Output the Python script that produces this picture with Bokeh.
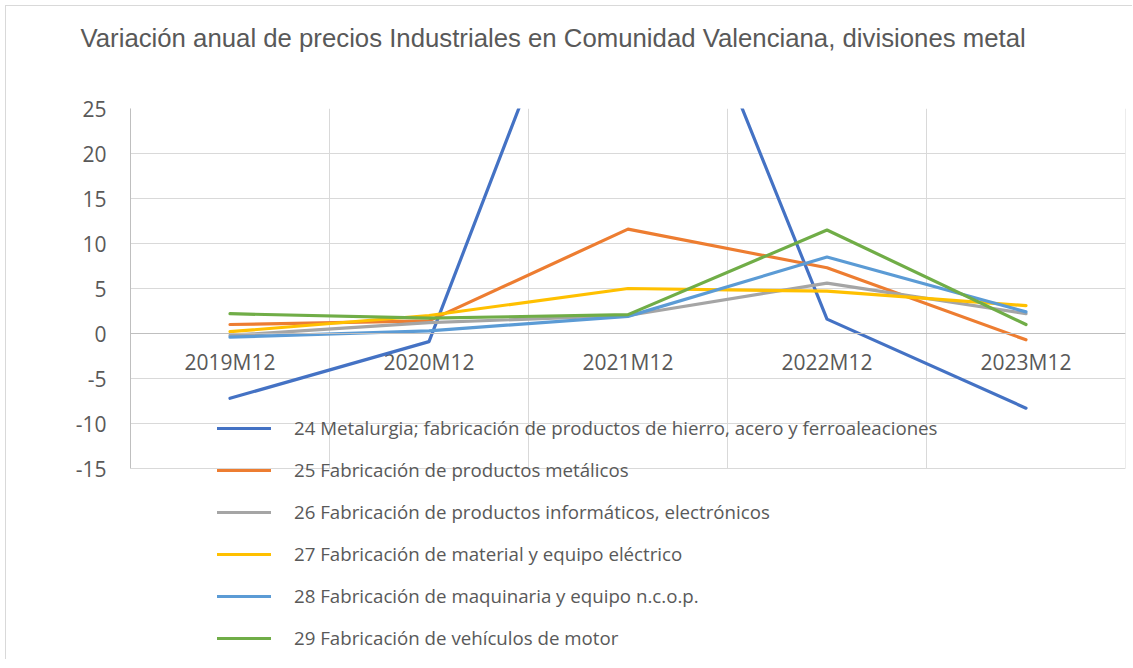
from bokeh.plotting import figure
from bokeh.models import FixedTicker, Legend, LegendItem, Range1d, Span, Title
from bokeh.core.properties import value
from bokeh.embed import file_html
from bokeh.resources import INLINE

title_text = "Variación anual de precios Industriales en Comunidad Valenciana, divisiones metal"
categories = ["2019M12", "2020M12", "2021M12", "2022M12", "2023M12"]

series_names = [
    "24 Metalurgia; fabricación de productos de hierro, acero y ferroaleaciones",
    "25 Fabricación de productos metálicos",
    "26 Fabricación de productos informáticos, electrónicos",
    "27 Fabricación de material y equipo eléctrico",
    "28 Fabricación de maquinaria y equipo n.c.o.p.",
    "29 Fabricación de vehículos de motor",
]
s24 = [-7.2, -0.9, 56.5, 1.6, -8.3]
s25 = [1.0, 1.4, 11.6, 7.3, -0.7]
s26 = [-0.2, 1.2, 2.0, 5.6, 2.2]
s27 = [0.2, 2.0, 5.0, 4.7, 3.1]
s28 = [-0.4, 0.3, 1.9, 8.5, 2.4]
s29 = [2.2, 1.7, 2.1, 11.5, 1.0]
series_values = [s24, s25, s26, s27, s28, s29]
colors = ["#4472C4", "#ED7D31", "#A5A5A5", "#FFC000", "#5B9BD5", "#70AD47"]
y_ticks = [-15, -10, -5, 0, 5, 10, 15, 20, 25]

xs = [i + 0.5 for i in range(len(categories))]
bounds_x = list(range(len(categories) + 1))

# frame: 9 px per unit, extra room below -15 for the legend
p = figure(width=1127, height=654, output_backend="svg", toolbar_location=None,
           x_range=Range1d(0, len(categories)), y_range=Range1d(-15 - 192 / 9, 25),
           min_border_left=124, min_border_right=8, min_border_top=102,
           min_border_bottom=0)
p.styles = {"margin-left": "5px", "margin-top": "5px",
            "border-left": "1px solid #D9D9D9", "border-top": "1px solid #D9D9D9"}
p.outline_line_color = None
p.background_fill_color = "white"
p.border_fill_color = "white"

p.title.text = title_text
p.title.text_font = "Liberation Sans"
p.title.text_font_size = "25.75px"
p.title.text_font_style = "normal"
p.title.text_color = "#595959"
p.title.align = "left"
p.title.vertical_align = "bottom"
p.title.offset = -50
p.title.standoff = 0

# blank spacer between title and plot area
spacer = Title(text=" ", text_font_size="10px", standoff=44, text_color="white")
p.add_layout(spacer, "above")

# horizontal grid
p.ygrid.ticker = FixedTicker(ticks=y_ticks)
p.ygrid.grid_line_color = "#D9D9D9"
p.ygrid.grid_line_width = 1
# vertical grid lines at category boundaries, limited to the value range
p.xgrid.visible = False
p.segment(x0=bounds_x, y0=[y_ticks[0]] * len(bounds_x), x1=bounds_x,
          y1=[y_ticks[-1]] * len(bounds_x), line_color="#D9D9D9", line_width=1)

# x axis at zero (category labels next to it)
p.xaxis.visible = False
p.add_layout(Span(location=0, dimension="width", line_color="#BFBFBF", line_width=1))
p.text(x=xs, y=[0] * len(xs), text=categories, text_font=value("Open Sans"),
       text_font_size="21px", text_color="#595959", text_align="center",
       text_baseline="middle", y_offset=28)

ya = p.yaxis[0]
ya.ticker = FixedTicker(ticks=y_ticks)
ya.bounds = (y_ticks[0], y_ticks[-1])
ya.major_label_overrides = {t: str(t) for t in y_ticks}
ya.axis_line_color = "#BFBFBF"
ya.major_tick_line_color = None
ya.minor_tick_line_color = None
ya.major_tick_out = 0
ya.major_tick_in = 0
ya.major_label_standoff = 24
ya.major_label_text_font = "Open Sans"
ya.major_label_text_font_size = "21px"
ya.major_label_text_color = "#595959"

items = []
for name, vals, col in zip(series_names, series_values, colors):
    r = p.line(xs, vals, line_color=col, line_width=3.2, line_cap="round", line_join="round")
    items.append(LegendItem(label=name, renderers=[r]))

legend = Legend(items=items, location=(87, 10), orientation="vertical",
                glyph_width=54, glyph_height=20, label_height=20, spacing=17,
                label_standoff=23, padding=0, margin=0,
                label_text_font="Open Sans", label_text_font_size="18.7px",
                label_text_color="#595959",
                background_fill_alpha=0, border_line_color=None)
p.add_layout(legend, "center")

open("out.html", "w").write(file_html(p, INLINE))
